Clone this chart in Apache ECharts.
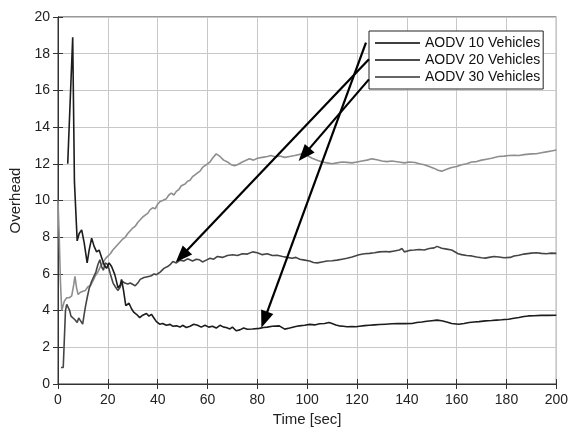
<!DOCTYPE html>
<html><head><meta charset="utf-8">
<script src="https://cdn.jsdelivr.net/npm/echarts@6/dist/echarts.min.js"></script>
<style>html,body{margin:0;padding:0;background:#fff}#c{width:571px;height:432px}</style>
</head><body><div id="c"></div>
<script>
const seriesNames = ['AODV 10 Vehicles', 'AODV 20 Vehicles', 'AODV 30 Vehicles'];
const xTicks = [0, 20, 40, 60, 80, 100, 120, 140, 160, 180, 200];
const yTicks = [0, 2, 4, 6, 8, 10, 12, 14, 16, 18, 20];

const t10 = [3.9,5.9,6.6,7.7,8.5,9.5,10.5,11.7,12.5,13.5,14.5,15.5,16.5,17.5,18.5,19.5,20.5,21.5,22.8,24.1,25.0,25.5,26.3,27.2,28.5,29.5,30.5,31.5,32.8,34,35.5,36.5,37.5,38.5,39.5,40.8,42,43.5,45,46,47.5,49,50,51.5,53,54.5,56,57.5,59,60.5,62,63.5,65,66.5,67.5,69,70,71.5,73,74.5,76,78,80.8,82.5,84,86,88.8,89.5,91,93,95,96.8,99,101,103,105,107,108.8,110,111.5,112.8,114.5,116,118,119.5,121,123,125,127,129,131.5,134,136.5,139,142.1,144,146,148,150,152.1,154,156,158,160.8,163,165,167,169,171.5,174,176,178,180.8,183,185,187,188.8,191,194,197,200];
const v10 = [12.0,18.9,11.0,7.8,8.2,8.4,7.7,6.6,7.3,7.95,7.5,7.2,7.3,6.9,6.5,6.3,6.6,6.4,5.96,5.24,5.4,5.7,5.1,4.27,4.4,4.1,3.9,3.8,3.62,3.75,3.84,3.7,3.8,3.6,3.4,3.26,3.3,3.2,3.25,3.15,3.17,3.1,3.2,3.08,3.15,3.26,3.2,3.1,3.2,3.1,3.15,3.05,3.2,3.1,3.08,3.0,3.1,2.9,2.95,3.05,2.98,3.0,3.03,3.08,3.1,3.15,3.17,3.1,2.99,3.05,3.12,3.17,3.2,3.25,3.22,3.28,3.3,3.35,3.3,3.22,3.17,3.15,3.12,3.13,3.12,3.15,3.18,3.2,3.22,3.24,3.26,3.28,3.3,3.29,3.3,3.35,3.38,3.42,3.45,3.48,3.45,3.38,3.3,3.26,3.3,3.35,3.38,3.4,3.44,3.46,3.48,3.5,3.53,3.58,3.62,3.68,3.71,3.72,3.74,3.74,3.75];

const t20 = [1.2,2.1,3.0,3.5,4.2,4.7,5.2,6.0,6.8,7.7,8.3,9.0,9.9,10.5,11.0,11.7,12.5,13.5,14.3,15.2,16.0,16.8,17.5,18.2,19.0,20.0,21.0,22.1,23.0,24.0,24.8,25.8,26.8,28.0,29.0,30.1,31.0,32.0,33.0,34.5,36.0,37.5,38.5,39.5,41.0,42.5,44.0,45.0,46.1,47.5,49.0,50.5,52.0,52.8,54.0,55.5,56.8,58.0,59.5,61.0,62.5,64.0,66.0,68.0,70.1,72.0,74.0,76.0,78.1,80.0,82.0,84.0,86.0,88.0,90.1,92.0,94.0,95.5,97.0,99.0,101.0,102.5,104.1,106.0,108.0,110.0,112.0,114.0,116.0,118.0,120.8,123.0,125.0,127.0,129.0,131.5,133.0,135.0,137.0,138.1,139.0,141.0,143.0,145.0,147.0,149.0,151.0,152.1,154.0,156.0,158.0,160.6,162.0,164.0,166.0,168.0,170.0,171.5,173.0,175.0,177.0,179.0,181.5,183.0,185.0,187.0,190.0,192.0,194.0,196.0,198.0,200.0];
const v20 = [0.9,0.9,4.0,4.34,4.3,4.0,3.7,3.6,3.5,3.35,3.6,3.5,3.26,3.8,4.2,4.7,5.2,5.6,5.5,6.1,6.5,6.77,6.4,6.2,6.6,6.5,6.0,5.5,5.3,5.1,5.24,5.6,5.5,5.45,5.5,5.42,5.35,5.5,5.7,5.8,5.85,5.9,6.0,5.96,6.1,6.3,6.4,6.5,6.68,6.6,6.75,6.7,6.82,6.77,6.7,6.8,6.77,6.65,6.75,6.85,6.8,6.95,6.9,7.0,7.04,7.0,7.1,7.08,7.2,7.15,7.05,7.1,7.0,7.02,6.95,6.9,6.85,6.9,6.8,6.75,6.7,6.62,6.6,6.65,6.7,6.72,6.75,6.8,6.85,6.92,7.04,7.1,7.12,7.15,7.2,7.22,7.2,7.25,7.3,7.38,7.2,7.28,7.3,7.33,7.3,7.38,7.42,7.5,7.4,7.35,7.3,7.1,7.05,7.0,6.98,6.92,6.88,6.86,6.9,6.95,6.92,6.88,6.9,6.98,7.02,7.08,7.13,7.15,7.12,7.1,7.13,7.12];

const t30 = [0,0.5,1.0,1.5,2.5,3.5,4.5,5.5,6.3,6.8,7.5,8.1,9,10,11,12,13,14,15,16,17,18,19.2,20,21,22,23,24,25,26,27,28,29,30,31,32,33,34,35,36,37,38,39,40,41,42,43.5,44.5,45.5,46.5,47.5,48.5,49.5,51,52,53,54,55,56,57,58,59,60,61,62,63.5,65,66.5,68,69.5,70.8,72,74,76.8,78.5,80,82,84,85.5,87,89,91,93,95,98,100,102,104,106,108,110,112,114,116,118,120,122,124,126,128,130,132,134,136.8,139,141,143.3,145,147,149,151,152.5,154,156,158,160,162,164,166,168,170,172,174,176.8,179,181,183,185,187,190,192,194,196,198,200];
const v30 = [10.0,8.0,5.5,4.0,4.5,4.7,4.7,4.8,5.4,5.87,5.2,4.88,5.0,5.05,5.1,5.3,5.35,5.6,5.9,6.1,6.4,6.6,6.86,6.9,7.1,7.3,7.45,7.6,7.75,7.9,8.0,8.2,8.35,8.5,8.6,8.8,8.95,9.1,9.2,9.3,9.5,9.6,9.55,9.8,9.95,10.0,10.1,10.3,10.4,10.3,10.5,10.6,10.8,10.9,11.05,11.1,11.3,11.4,11.5,11.6,11.8,11.9,12.0,12.1,12.3,12.54,12.4,12.2,12.1,11.95,11.9,11.95,12.1,12.27,12.2,12.3,12.35,12.4,12.45,12.38,12.42,12.35,12.4,12.45,12.54,12.45,12.3,12.2,12.1,12.05,12.0,12.05,12.1,12.08,12.05,12.1,12.15,12.2,12.27,12.22,12.15,12.12,12.15,12.1,12.05,12.1,12.07,12.0,11.95,11.85,11.75,11.65,11.6,11.7,11.8,11.85,11.95,12.0,12.1,12.12,12.2,12.25,12.3,12.4,12.42,12.45,12.47,12.45,12.5,12.54,12.55,12.6,12.65,12.7,12.75];

// annotation arrows: [startX, startY, endX, endY] in data units
const arrow10 = [123.6, 18.6, 82.8, 3.5];
const arrow20 = [124.8, 17.7, 49.6, 6.97];
const arrow30 = [124.8, 16.6, 98.8, 12.5];

const zip = (a, b) => a.map((x, i) => [x, b[i]]);
const colors = ['#1c1c1c', '#454545', '#8e8e8e'];
const legendLineColors = ['#000000', '#111111', '#333333'];
const font = 'Liberation Sans, Arial, sans-serif';
const arrowLine = a => [{coord: [a[0], a[1]], symbol: 'none'}, {coord: [a[2], a[3]], symbol: 'triangle'}];

const chart = echarts.init(document.getElementById('c'), null, {renderer: 'canvas'});
chart.setOption({
  animation: false,
  backgroundColor: '#fff',
  grid: {left: 58, top: 17, right: 13, bottom: 45, show: true, borderColor: '#333', borderWidth: 1},
  legend: {
    data: seriesNames.map((n, i) => ({name: n, icon: 'path://M0,6 L45,6 L45,7.5 L0,7.5 Z',
      itemStyle: {color: legendLineColors[i], borderWidth: 0}})),
    orient: 'vertical', left: 369, top: 31,
    backgroundColor: '#fff', borderColor: '#222', borderWidth: 1, padding: [5, 3, 5, 6],
    itemWidth: 45, itemHeight: 14, itemGap: 3,
    textStyle: {fontFamily: font, fontSize: 14, color: '#111'}
  },
  xAxis: [{
    type: 'value', min: 0, max: 200, interval: 20,
    name: 'Time [sec]', nameLocation: 'middle', nameGap: 28,
    nameTextStyle: {fontFamily: font, fontSize: 15, color: '#222'},
    axisLine: {show: true, lineStyle: {color: '#333'}},
    axisTick: {inside: true, length: 5, lineStyle: {color: '#333'}},
    axisLabel: {fontFamily: font, fontSize: 14, color: '#222', margin: 9},
    splitLine: {show: true, lineStyle: {color: '#c8c8c8', width: 1}}
  }, {
    type: 'value', position: 'top', min: 0, max: 200, interval: 20,
    axisLine: {show: true, lineStyle: {color: '#333'}},
    axisTick: {inside: true, length: 5, lineStyle: {color: '#333'}},
    axisLabel: {show: false}, splitLine: {show: false}
  }],
  yAxis: [{
    type: 'value', min: 0, max: 20, interval: 2,
    name: 'Overhead', nameLocation: 'middle', nameGap: 33, nameRotate: 90,
    nameTextStyle: {fontFamily: font, fontSize: 15, color: '#222'},
    axisLine: {show: true, lineStyle: {color: '#333'}},
    axisTick: {inside: true, length: 5, lineStyle: {color: '#333'}},
    axisLabel: {fontFamily: font, fontSize: 14, color: '#222', margin: 8},
    splitLine: {show: true, lineStyle: {color: '#c8c8c8', width: 1}}
  }, {
    type: 'value', position: 'right', min: 0, max: 20, interval: 2,
    axisLine: {show: true, lineStyle: {color: '#333'}},
    axisTick: {inside: true, length: 5, lineStyle: {color: '#333'}},
    axisLabel: {show: false}, splitLine: {show: false}
  }],
  series: [
    {name: seriesNames[0], type: 'line', data: zip(t10, v10), symbol: 'none', color: colors[0],
     lineStyle: {width: 1.6, color: colors[0]}, z: 4},
    {name: seriesNames[1], type: 'line', data: zip(t20, v20), symbol: 'none', color: colors[1],
     lineStyle: {width: 1.6, color: colors[1]}, z: 3},
    {name: seriesNames[2], type: 'line', data: zip(t30, v30), symbol: 'none', color: colors[2],
     lineStyle: {width: 1.6, color: colors[2]}, z: 2,
     markLine: {
       silent: true, animation: false, symbolSize: [13, 17],
       label: {show: false}, emphasis: {disabled: true},
       lineStyle: {color: '#000', width: 2.2, type: 'solid'},
       itemStyle: {color: '#000'},
       data: [arrowLine(arrow10), arrowLine(arrow20), arrowLine(arrow30)]
     }}
  ]
});
</script></body></html>
